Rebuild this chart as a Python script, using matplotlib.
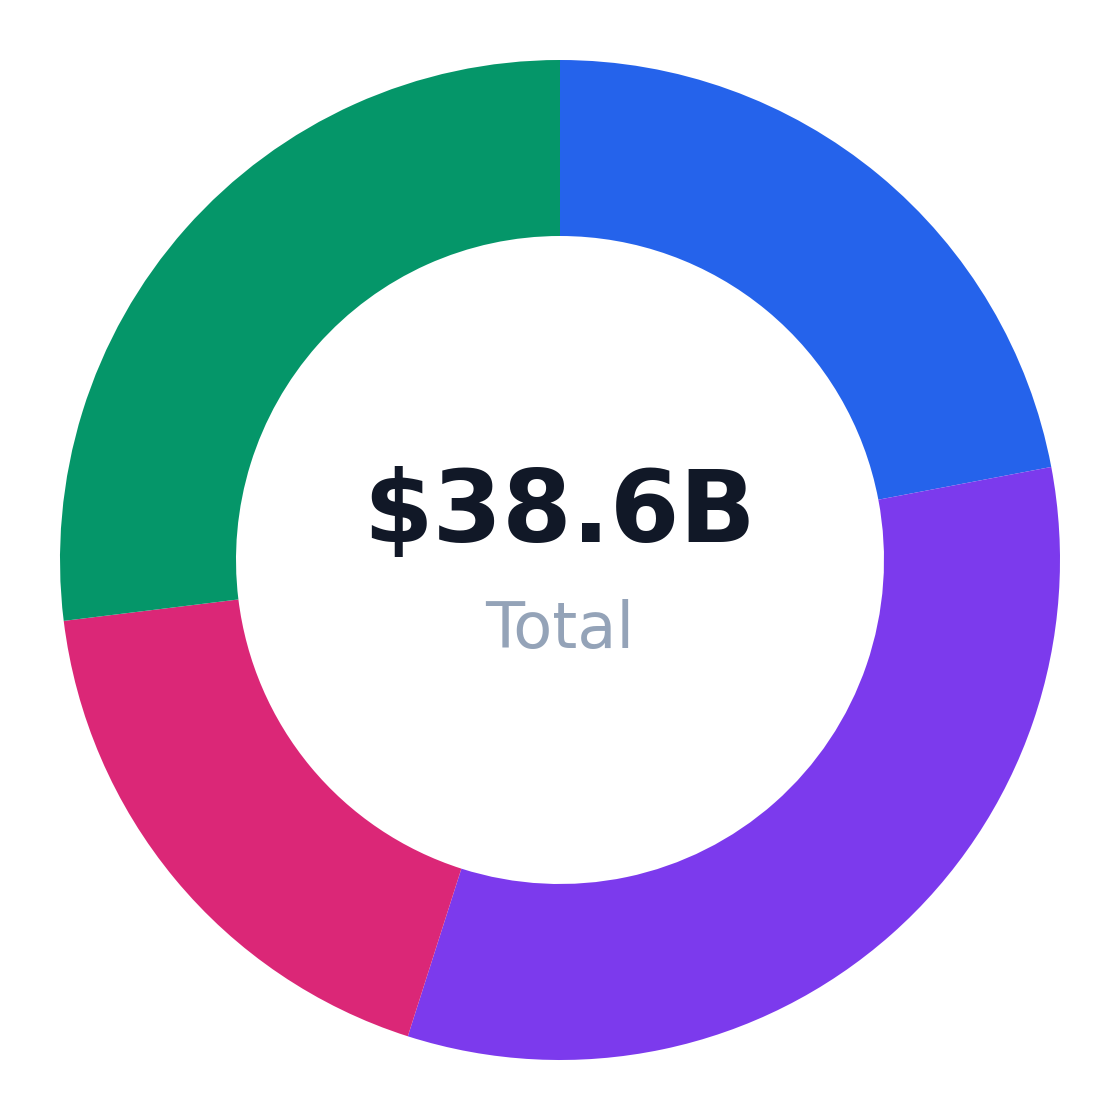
import matplotlib
matplotlib.use("Agg")
import matplotlib.pyplot as plt

# segment values in $B, clockwise from 12 o'clock
values = [8.5, 12.7, 7.0, 10.4]
colors = ["#2563eb", "#7c3aed", "#db2777", "#059669"]
total_label = "$38.6B"
sub_label = "Total"

fig = plt.figure(figsize=(11.2, 11.2), dpi=100)
ax = fig.add_axes([0, 0, 1, 1])

ax.pie(values, colors=colors, startangle=90, counterclock=False,
       radius=1.0, wedgeprops=dict(width=0.352, edgecolor="none", linewidth=0))

ax.text(0, 0.036, total_label, ha="center", va="baseline",
        fontsize=72, fontweight="bold", color="#111827")
ax.text(0, -0.176, sub_label, ha="center", va="baseline",
        fontsize=46, color="#94a3b8")

ax.set_xlim(-1.12, 1.12)
ax.set_ylim(-1.12, 1.12)
ax.set_aspect("equal")
ax.axis("off")

fig.savefig("out.png", dpi=100, facecolor="white")
